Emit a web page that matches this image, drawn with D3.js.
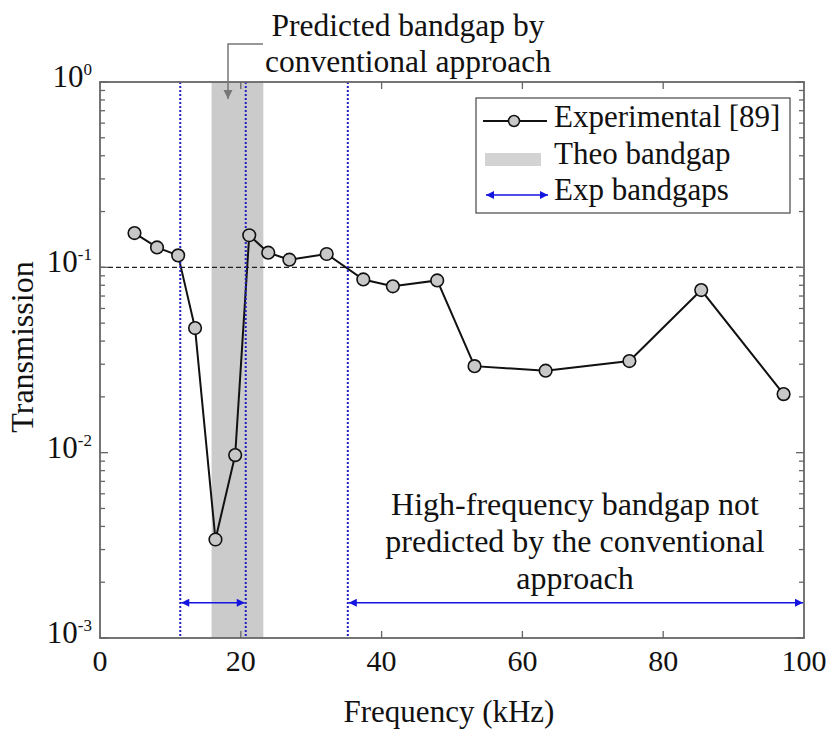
<!DOCTYPE html>
<html><head><meta charset="utf-8">
<script src="https://cdn.jsdelivr.net/npm/d3@7"></script>
<style>body{margin:0;background:#fff}svg text{font-family:"Liberation Serif","Times New Roman",serif}</style>
</head><body><svg id="c" width="838" height="731"></svg>
<script>
const freq = [4.9, 8.1, 11.1, 13.5, 16.4, 19.2, 21.2, 23.9, 26.9, 32.2, 37.4, 41.6, 47.9, 53.2, 63.3, 75.2, 85.4, 97.1];
const trans = [0.153, 0.128, 0.116, 0.047, 0.0034, 0.0097, 0.149, 0.120, 0.110, 0.118, 0.086, 0.079, 0.085, 0.0293, 0.0277, 0.0312, 0.0754, 0.0207];
const theoBand = [15.85, 23.2];
const expBandLines = [11.4, 20.7, 35.2];
const expBands = [[11.4, 20.7], [35.2, 100]];
const xTicks = [0, 20, 40, 60, 80, 100];
const yTicks = [1, 0.1, 0.01, 0.001];
const yTickExp = ["0", "-1", "-2", "-3"];
const refLevel = 0.1;
const arrowLevel = 0.00155;

const svg = d3.select("#c");
const L = 100, R = 804, T = 82, B = 638;
const x = d3.scaleLinear().domain([0, 100]).range([L, R]);
const y = d3.scaleLog().domain([0.001, 1]).range([B, T]);

const defs = svg.append("defs");
defs.append("marker").attr("id","ah").attr("viewBox","0 0 10 10").attr("refX",10).attr("refY",5)
  .attr("markerWidth",12).attr("markerHeight",8).attr("markerUnits","userSpaceOnUse").attr("orient","auto-start-reverse")
  .append("path").attr("d","M0,0L10,5L0,10z").attr("fill","#1515e0");
defs.append("marker").attr("id","gh").attr("viewBox","0 0 10 10").attr("refX",10).attr("refY",5)
  .attr("markerWidth",9).attr("markerHeight",14).attr("markerUnits","userSpaceOnUse").attr("orient","auto")
  .append("path").attr("d","M0,0L10,5L0,10z").attr("fill","#777");

// theoretical band
svg.append("rect").attr("x", x(theoBand[0])).attr("y", T).attr("width", x(theoBand[1]) - x(theoBand[0]))
  .attr("height", B - T).attr("fill", "#cbcbcb");

// dashed reference line
svg.append("line").attr("x1", L).attr("x2", R).attr("y1", y(refLevel)).attr("y2", y(refLevel))
  .attr("stroke", "#222").attr("stroke-width", 1.2).attr("stroke-dasharray", "5,3");

// data line
const pts = freq.map((f, i) => [f, trans[i]]);
svg.append("path").datum(pts).attr("fill","none").attr("stroke","#111").attr("stroke-width",2)
  .attr("d", d3.line().x(d => x(d[0])).y(d => y(d[1])));

// dotted bandgap lines
svg.selectAll(".vl").data(expBandLines).join("line").attr("x1", d => x(d)).attr("x2", d => x(d))
  .attr("y1", T).attr("y2", B).attr("stroke", "#2020c0").attr("stroke-width", 2).attr("stroke-dasharray", "2,2");

svg.selectAll(".pt").data(pts).join("circle").attr("cx", d => x(d[0])).attr("cy", d => y(d[1]))
  .attr("r", 6.3).attr("fill", "#c8c8c8").attr("stroke", "#111").attr("stroke-width", 1.6);

// bandgap arrows
svg.selectAll(".ba").data(expBands).join("line").attr("x1", d => x(d[0]) + 1).attr("x2", d => x(d[1]) - 1)
  .attr("y1", y(arrowLevel)).attr("y2", y(arrowLevel)).attr("stroke", "#1515e0").attr("stroke-width", 1.6)
  .attr("marker-start", "url(#ah)").attr("marker-end", "url(#ah)");

// axes frame
const axC = "#666";
const minors = [];
for (let e = -3; e < 0; e++) for (let m = 2; m <= 9; m++) minors.push(m * Math.pow(10, e));
const g = svg.append("g");
g.append("rect").attr("x", L).attr("y", T).attr("width", R - L).attr("height", B - T).attr("fill", "none")
  .attr("stroke", axC).attr("stroke-width", 1.8);
const ax = g.append("g").attr("stroke", axC).attr("stroke-width", 1.3);
xTicks.slice(1, -1).forEach(t => {
  ax.append("line").attr("x1", x(t)).attr("x2", x(t)).attr("y1", B).attr("y2", B - 7);
  ax.append("line").attr("x1", x(t)).attr("x2", x(t)).attr("y1", T).attr("y2", T + 7);
});
yTicks.forEach(t => {
  ax.append("line").attr("x1", L).attr("x2", L + 8).attr("y1", y(t)).attr("y2", y(t));
  ax.append("line").attr("x1", R).attr("x2", R - 8).attr("y1", y(t)).attr("y2", y(t));
});
minors.forEach(t => {
  ax.append("line").attr("x1", L).attr("x2", L + 5).attr("y1", y(t)).attr("y2", y(t));
  ax.append("line").attr("x1", R).attr("x2", R - 5).attr("y1", y(t)).attr("y2", y(t));
});

// tick labels
svg.selectAll(".xt").data(xTicks).join("text").attr("x", d => x(d)).attr("y", B + 33)
  .attr("text-anchor", "middle").attr("font-size", 30).attr("fill", "#111").text(d => d);
yTicks.forEach((t, i) => {
  const tx = svg.append("text").attr("x", L - 8).attr("y", y(t) + 5).attr("text-anchor", "end")
    .attr("font-size", 31).attr("fill", "#111");
  tx.append("tspan").text("10");
  tx.append("tspan").attr("font-size", 17).attr("dy", -12).text(yTickExp[i]);
});

// axis titles
svg.append("text").attr("x", 449).attr("y", 722).attr("text-anchor", "middle")
  .attr("font-size", 31).attr("fill", "#111").text("Frequency (kHz)");
svg.append("text").attr("transform", `translate(33,347) rotate(-90)`).attr("text-anchor", "middle")
  .attr("font-size", 32).attr("fill", "#111").text("Transmission");

// top annotation
const ann = svg.append("text").attr("text-anchor", "middle").attr("font-size", 31.5).attr("fill", "#111");
ann.append("tspan").attr("x", 408).attr("y", 36).text("Predicted bandgap by");
ann.append("tspan").attr("x", 408).attr("y", 72).text("conventional approach");
svg.append("path").attr("d", `M263,44 H228 V99`).attr("fill", "none").attr("stroke", "#777")
  .attr("stroke-width", 1.5).attr("marker-end", "url(#gh)");

// bottom annotation
const ann2 = svg.append("text").attr("text-anchor", "middle").attr("font-size", 32).attr("fill", "#111");
["High-frequency bandgap not", "predicted by the conventional", "approach"].forEach((s, i) =>
  ann2.append("tspan").attr("x", 575).attr("y", 515 + i * 37).text(s));

// legend
const lg = svg.append("g");
lg.append("rect").attr("x", 476).attr("y", 98).attr("width", 314).attr("height", 115)
  .attr("fill", "#fff").attr("stroke", "#555").attr("stroke-width", 1.3);
lg.append("line").attr("x1", 483).attr("x2", 547).attr("y1", 121).attr("y2", 121).attr("stroke", "#111").attr("stroke-width", 2);
lg.append("circle").attr("cx", 514).attr("cy", 121).attr("r", 5.5).attr("fill", "#c8c8c8").attr("stroke", "#111").attr("stroke-width", 1.5);
lg.append("rect").attr("x", 485).attr("y", 153).attr("width", 56).attr("height", 13).attr("fill", "#d3d3d3");
lg.append("line").attr("x1", 486).attr("x2", 548).attr("y1", 195).attr("y2", 195).attr("stroke", "#1515e0")
  .attr("stroke-width", 1.5).attr("marker-start", "url(#ah)").attr("marker-end", "url(#ah)");
[["Experimental [89]", 127], ["Theo bandgap", 164], ["Exp bandgaps", 200]].forEach(d =>
  lg.append("text").attr("x", 554).attr("y", d[1]).attr("font-size", 31).attr("fill", "#111").text(d[0]));
</script></body></html>
